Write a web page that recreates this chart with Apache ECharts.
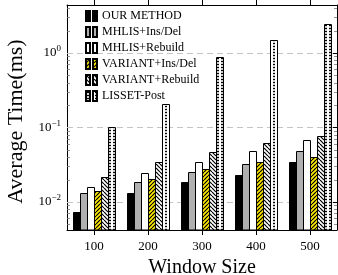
<!DOCTYPE html>
<html><head><meta charset="utf-8">
<script src="https://cdn.jsdelivr.net/npm/echarts@6/dist/echarts.min.js"></script>
<style>html,body{margin:0;padding:0;background:#fff}#c{width:338px;height:275px}</style>
</head><body><div id="c"></div>
<script>
const categories = ['100', '200', '300', '400', '500'];
const seriesNames = ['OUR METHOD', 'MHLIS+Ins/Del', 'MHLIS+Rebuild', 'VARIANT+Ins/Del', 'VARIANT+Rebuild', 'LISSET-Post'];
const ourMethod = [0.0074, 0.0131, 0.0184, 0.0230, 0.0348];
const mhlisInsDel = [0.0131, 0.0187, 0.0250, 0.0320, 0.0484];
const mhlisRebuild = [0.0157, 0.0247, 0.0348, 0.0489, 0.0680];
const variantInsDel = [0.0141, 0.0201, 0.0275, 0.0348, 0.0406];
const variantRebuild = [0.0219, 0.0341, 0.0473, 0.0619, 0.0776];
const lissetPost = [0.1025, 0.207, 0.875, 1.49, 2.43];
const yMajorTicks = [0.01, 0.1, 1];
const yMinorTicks = [0.005, 0.006, 0.007, 0.008, 0.009,
  0.02, 0.03, 0.04, 0.05, 0.06, 0.07, 0.08, 0.09,
  0.2, 0.3, 0.4, 0.5, 0.6, 0.7, 0.8, 0.9,
  2, 3, 4];
const yMin = 0.0042, yMax = 4.4;

const FONT = 'Liberation Serif';
const chart = echarts.init(document.getElementById('c'), null, {renderer: 'canvas'});

function supLabel(v) {
  const l = Math.log10(v);
  const e = Math.round(l);
  if (Math.abs(l - e) > 1e-6) return '';
  return '{b|10}{s|' + (e < 0 ? '\u2212' + (-e) : String(e)) + '}';
}

// tiled fill patterns
function makePattern(w, h, bg, draw) {
  const c = document.createElement('canvas');
  c.width = w; c.height = h;
  const ctx = c.getContext('2d');
  ctx.fillStyle = bg; ctx.fillRect(0, 0, w, h);
  ctx.fillStyle = '#000'; ctx.strokeStyle = '#000';
  draw(ctx, w, h);
  return {image: c, repeat: 'repeat'};
}
function stripesNE(ctx, w, h) {
  ctx.lineWidth = 1.2;
  for (let k = -w; k <= w; k += w) { ctx.beginPath(); ctx.moveTo(k, h); ctx.lineTo(k + w, 0); ctx.stroke(); }
}
function stripesNW(ctx, w, h) {
  ctx.lineWidth = 1.2;
  for (let k = -w; k <= w; k += w) { ctx.beginPath(); ctx.moveTo(k, 0); ctx.lineTo(k + w, h); ctx.stroke(); }
}
function dotsDraw(ctx, w, h) { ctx.fillRect(1, 0.8, 2, 1.4); }

const fills = [
  '#000000',
  '#b0b0b0',
  '#ffffff',
  makePattern(4, 4, '#fde800', stripesNE),
  makePattern(4, 4, '#ffffff', stripesNW),
  makePattern(4, 3, '#ffffff', dotsDraw)
];
const values = [ourMethod, mhlisInsDel, mhlisRebuild, variantInsDel, variantRebuild, lissetPost];
const CAT_GAP = 0.22;

function barSeries(idx) {
  return {
    type: 'custom', name: seriesNames[idx], z: 3, xAxisIndex: 0, yAxisIndex: 0,
    itemStyle: {color: fills[idx], borderColor: '#000', borderWidth: 1},
    encode: {x: 0, y: 1},
    data: values[idx].map((v, i) => [i, v]),
    renderItem: function (params, api) {
      const cs = params.coordSys;
      const pt = api.coord([api.value(0), api.value(1)]);
      const bandW = api.size([1, 0])[0];
      const groupW = bandW * (1 - CAT_GAP);
      const bw = Math.round(groupW / seriesNames.length);
      const x0 = Math.round(pt[0] - (bw * seriesNames.length) / 2 + idx * bw) + 0.5;
      const y0 = Math.round(pt[1]) + 0.5;
      const bottom = cs.y + cs.height;
      return {type: 'rect', shape: {x: x0, y: y0, width: bw, height: bottom - y0},
        style: {fill: fills[idx], stroke: '#000', lineWidth: 1}};
    }
  };
}

const yAxisBase = {type: 'log', logBase: 10, min: yMin, max: yMax,
  axisLine: {show: true, lineStyle: {color: '#000', width: 1}},
  axisTick: {show: true, inside: true, length: 5, lineStyle: {color: '#000'}},
  splitLine: {show: false}, minorTick: {show: false}};

chart.setOption({
  animation: false,
  backgroundColor: '#fff',
  grid: {left: 67, right: 1, top: 5, bottom: 45, containLabel: false, outerBoundsMode: 'none'},
  legend: {
    data: seriesNames, orient: 'vertical', left: 80, top: 5,
    itemWidth: 11, itemHeight: 10, itemGap: 4,
    icon: 'path://M0,0H4V10H0Z M7,0H11V10H7Z',
    textStyle: {fontFamily: FONT, fontSize: 12, color: '#000'},
    selectedMode: false
  },
  xAxis: [{
    type: 'category', data: categories, position: 'bottom',
    axisLine: {show: true, lineStyle: {color: '#000', width: 1}},
    axisTick: {show: true, alignWithLabel: true, length: 5, lineStyle: {color: '#000'}},
    axisLabel: {fontFamily: FONT, fontSize: 13, color: '#000', margin: 10},
    name: 'Window Size', nameLocation: 'middle', nameGap: 25,
    nameTextStyle: {fontFamily: FONT, fontSize: 20, color: '#000'}
  }, {
    type: 'category', data: categories, position: 'top',
    axisLine: {show: true, lineStyle: {color: '#000', width: 1}},
    axisTick: {show: true, alignWithLabel: true, length: 5, lineStyle: {color: '#000'}},
    axisLabel: {show: false}
  }],
  yAxis: [Object.assign({}, yAxisBase, {
    position: 'left',
    axisLabel: {formatter: supLabel, margin: 6, color: '#000',
      rich: {b: {fontFamily: FONT, fontSize: 13, color: '#000'},
             s: {fontFamily: FONT, fontSize: 9, color: '#000', padding: [0, 0, 8, 0]}}},
    name: 'Average Time(ms)', nameLocation: 'middle', nameGap: 39, nameRotate: 90,
    nameTextStyle: {fontFamily: FONT, fontSize: 22, color: '#000', padding: [0, 8, 0, 0]}
  }), Object.assign({}, yAxisBase, {position: 'right', axisLabel: {show: false}})],
  series: [
    {type: 'custom', name: 'grid', z: 1, silent: true, xAxisIndex: 0, yAxisIndex: 0,
      encode: {x: 0, y: 1},
      data: yMajorTicks.map(v => [0, v]),
      renderItem: function (params, api) {
        const cs = params.coordSys;
        const y = Math.round(api.coord([0, api.value(1)])[1]) + 0.5;
        return {type: 'line', shape: {x1: cs.x, y1: y, x2: cs.x + cs.width, y2: y},
          style: {stroke: '#c4c4c4', lineWidth: 1, lineDash: [6, 4]}};
      }},
    {type: 'custom', name: 'minor', z: 4, silent: true, xAxisIndex: 0, yAxisIndex: 0,
      encode: {x: 0, y: 1},
      data: yMinorTicks.map(v => [0, v]),
      renderItem: function (params, api) {
        const cs = params.coordSys;
        const y = Math.round(api.coord([0, api.value(1)])[1]) + 0.5;
        return {type: 'group', children: [
          {type: 'line', shape: {x1: cs.x, y1: y, x2: cs.x + 3, y2: y}, style: {stroke: '#777', lineWidth: 0.8}},
          {type: 'line', shape: {x1: cs.x + cs.width - 3, y1: y, x2: cs.x + cs.width, y2: y}, style: {stroke: '#777', lineWidth: 0.8}}
        ]};
      }}
  ].concat(seriesNames.map((n, i) => barSeries(i)))
});
</script></body></html>
